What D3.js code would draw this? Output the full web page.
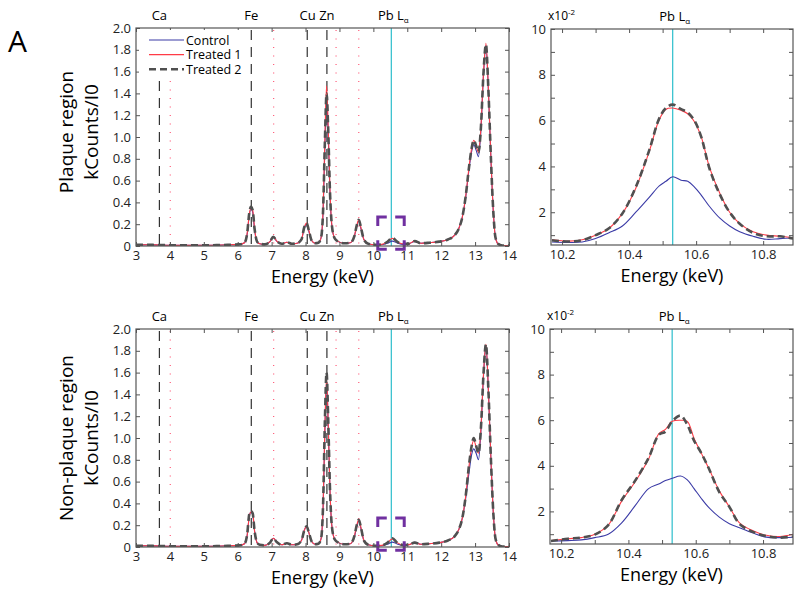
<!DOCTYPE html>
<html>
<head>
<meta charset="utf-8">
<script src="https://cdn.jsdelivr.net/npm/d3@7"></script>
<style>
  body { margin: 0; background: #fff; }
  svg { font-family: "Open Sans", "Noto Sans", sans-serif; }
</style>
</head>
<body>
<svg id="chart" width="800" height="596"></svg>
<script>
// ---- data ----
var seriesNames = ["Control", "Treated 1", "Treated 2"];

// full spectra (keV, kCounts/I0)
var energy = [3.0, 3.3, 3.5, 3.8, 4.2, 4.6, 5.0, 5.4, 5.8, 6.05, 6.2, 6.28, 6.34, 6.39, 6.44, 6.5, 6.57, 6.65, 6.8, 6.95,
  7.05, 7.15, 7.3, 7.45, 7.6, 7.75, 7.88, 7.96, 8.03, 8.1, 8.18, 8.28, 8.38, 8.46, 8.52, 8.57, 8.62, 8.67, 8.72, 8.78,
  8.86, 8.97, 9.15, 9.32, 9.44, 9.51, 9.57, 9.64, 9.72, 9.85, 10.05, 10.25, 10.42, 10.56, 10.7, 10.88, 11.05, 11.22, 11.4, 11.65,
  11.95, 12.2, 12.4, 12.52, 12.62, 12.72, 12.82, 12.9, 12.96, 13.03, 13.1, 13.17, 13.25, 13.32, 13.39, 13.47, 13.54, 13.6, 13.68, 13.8, 14.0];

var plaqueControl = [0.01, 0.012, 0.01, 0.008, 0.006, 0.006, 0.007, 0.008, 0.012, 0.015, 0.03, 0.11, 0.28, 0.34, 0.31, 0.14, 0.04, 0.02, 0.015, 0.04,
  0.08, 0.045, 0.02, 0.035, 0.02, 0.025, 0.06, 0.16, 0.2, 0.13, 0.05, 0.025, 0.03, 0.08, 0.33, 0.9, 1.36, 1.0, 0.48, 0.17,
  0.07, 0.04, 0.025, 0.03, 0.09, 0.18, 0.23, 0.15, 0.06, 0.02, 0.012, 0.012, 0.025, 0.045, 0.028, 0.015, 0.02, 0.042, 0.025, 0.03,
  0.04, 0.06, 0.1, 0.16, 0.26, 0.44, 0.7, 0.87, 0.93, 0.88, 0.82, 1.05, 1.58, 1.84, 1.44, 0.77, 0.3, 0.08, 0.02, 0.005, 0.003];
var plaqueTreated1 = [0.01, 0.012, 0.01, 0.008, 0.006, 0.006, 0.007, 0.008, 0.012, 0.015, 0.03, 0.12, 0.29, 0.35, 0.33, 0.15, 0.04, 0.02, 0.015, 0.04,
  0.085, 0.045, 0.02, 0.035, 0.02, 0.025, 0.06, 0.17, 0.21, 0.14, 0.05, 0.025, 0.03, 0.08, 0.36, 0.98, 1.47, 1.08, 0.52, 0.18,
  0.07, 0.04, 0.025, 0.03, 0.09, 0.19, 0.24, 0.16, 0.06, 0.02, 0.012, 0.015, 0.04, 0.07, 0.04, 0.018, 0.022, 0.045, 0.025, 0.03,
  0.04, 0.06, 0.1, 0.16, 0.26, 0.45, 0.72, 0.9, 0.97, 0.92, 0.86, 1.08, 1.6, 1.86, 1.46, 0.78, 0.3, 0.08, 0.02, 0.005, 0.003];
var plaqueTreated2 = [0.01, 0.012, 0.01, 0.008, 0.006, 0.006, 0.007, 0.008, 0.012, 0.015, 0.03, 0.12, 0.3, 0.36, 0.33, 0.15, 0.04, 0.02, 0.015, 0.04,
  0.085, 0.045, 0.02, 0.035, 0.02, 0.025, 0.06, 0.17, 0.21, 0.14, 0.05, 0.025, 0.03, 0.08, 0.35, 0.95, 1.4, 1.05, 0.5, 0.18,
  0.07, 0.04, 0.025, 0.03, 0.09, 0.19, 0.24, 0.16, 0.06, 0.02, 0.012, 0.015, 0.04, 0.075, 0.04, 0.018, 0.022, 0.045, 0.025, 0.03,
  0.04, 0.06, 0.1, 0.16, 0.26, 0.45, 0.72, 0.9, 0.97, 0.92, 0.86, 1.08, 1.6, 1.85, 1.45, 0.78, 0.3, 0.08, 0.02, 0.005, 0.003];

var nonPlaqueControl = [0.01, 0.012, 0.01, 0.008, 0.006, 0.006, 0.007, 0.008, 0.012, 0.015, 0.03, 0.11, 0.28, 0.32, 0.3, 0.14, 0.04, 0.02, 0.015, 0.04,
  0.08, 0.045, 0.02, 0.035, 0.02, 0.025, 0.06, 0.15, 0.19, 0.13, 0.05, 0.025, 0.03, 0.08, 0.38, 1.05, 1.52, 1.1, 0.52, 0.18,
  0.07, 0.04, 0.025, 0.03, 0.09, 0.19, 0.24, 0.16, 0.06, 0.02, 0.012, 0.012, 0.025, 0.045, 0.028, 0.015, 0.02, 0.042, 0.025, 0.03,
  0.04, 0.06, 0.1, 0.16, 0.26, 0.44, 0.68, 0.85, 0.9, 0.86, 0.8, 1.05, 1.58, 1.85, 1.45, 0.78, 0.3, 0.08, 0.02, 0.005, 0.003];
var nonPlaqueTreated1 = [0.01, 0.012, 0.01, 0.008, 0.006, 0.006, 0.007, 0.008, 0.012, 0.015, 0.03, 0.11, 0.28, 0.32, 0.31, 0.14, 0.04, 0.02, 0.015, 0.04,
  0.08, 0.045, 0.02, 0.035, 0.02, 0.025, 0.06, 0.15, 0.19, 0.13, 0.05, 0.025, 0.03, 0.08, 0.4, 1.1, 1.55, 1.12, 0.53, 0.18,
  0.07, 0.04, 0.025, 0.03, 0.1, 0.2, 0.25, 0.17, 0.06, 0.02, 0.012, 0.015, 0.04, 0.075, 0.04, 0.018, 0.022, 0.04, 0.025, 0.03,
  0.04, 0.06, 0.1, 0.16, 0.26, 0.46, 0.74, 0.92, 0.98, 0.92, 0.86, 1.08, 1.6, 1.86, 1.46, 0.78, 0.3, 0.08, 0.02, 0.005, 0.003];
var nonPlaqueTreated2 = [0.01, 0.012, 0.01, 0.008, 0.006, 0.006, 0.007, 0.008, 0.012, 0.015, 0.03, 0.12, 0.3, 0.33, 0.31, 0.14, 0.04, 0.02, 0.015, 0.04,
  0.08, 0.045, 0.02, 0.035, 0.02, 0.025, 0.06, 0.15, 0.19, 0.13, 0.05, 0.025, 0.03, 0.08, 0.42, 1.15, 1.6, 1.15, 0.54, 0.18,
  0.07, 0.04, 0.025, 0.03, 0.1, 0.2, 0.25, 0.17, 0.06, 0.02, 0.012, 0.015, 0.04, 0.08, 0.04, 0.018, 0.022, 0.04, 0.025, 0.03,
  0.04, 0.06, 0.1, 0.16, 0.26, 0.46, 0.75, 0.93, 1.0, 0.93, 0.86, 1.08, 1.6, 1.86, 1.46, 0.78, 0.3, 0.08, 0.02, 0.005, 0.003];

// Pb L-alpha close-up (keV, x10^-2 kCounts/I0)
var zoomEnergy = [10.17, 10.22, 10.26, 10.3, 10.34, 10.38, 10.42, 10.46, 10.49, 10.51, 10.53, 10.555, 10.575, 10.595, 10.615, 10.64, 10.67, 10.7, 10.73, 10.77, 10.81, 10.85, 10.89];
var plaqueZoomControl = [0.7, 0.68, 0.7, 0.85, 1.1, 1.4, 2.0, 2.65, 3.15, 3.35, 3.55, 3.4, 3.35, 3.1, 2.75, 2.25, 1.75, 1.4, 1.15, 0.95, 0.82, 0.85, 0.88];
var plaqueZoomTreated1 = [0.8, 0.74, 0.8, 1.0, 1.3, 1.95, 3.05, 4.65, 6.05, 6.5, 6.55, 6.45, 6.3, 5.95, 5.3, 3.95, 2.85, 2.0, 1.5, 1.15, 1.0, 0.95, 0.88];
var plaqueZoomTreated2 = [0.78, 0.72, 0.78, 1.0, 1.3, 1.95, 3.1, 4.7, 6.1, 6.55, 6.7, 6.5, 6.35, 6.0, 5.3, 3.9, 2.8, 2.0, 1.5, 1.1, 0.95, 0.95, 0.85];
var nonPlaqueZoomControl = [0.7, 0.72, 0.75, 0.85, 1.0, 1.5, 2.25, 3.0, 3.2, 3.35, 3.45, 3.55, 3.38, 3.0, 2.6, 2.15, 1.75, 1.46, 1.28, 1.05, 0.87, 0.85, 0.87];
var nonPlaqueZoomTreated1 = [0.72, 0.8, 0.85, 1.0, 1.4, 2.45, 3.3, 4.3, 5.4, 5.6, 5.95, 6.0, 5.95, 5.2, 4.6, 3.85, 2.9, 2.2, 1.5, 1.15, 0.95, 0.9, 1.0];
var nonPlaqueZoomTreated2 = [0.7, 0.8, 0.85, 0.98, 1.4, 2.5, 3.35, 4.35, 5.35, 5.5, 5.95, 6.2, 5.8, 5.1, 4.6, 3.85, 2.85, 2.2, 1.45, 1.1, 0.92, 0.85, 0.9];

// element lines
var pbEnergy = 10.53;
var elementLines = [
  {label: "Ca", e: 3.69, kind: "ka"}, {e: 4.01, kind: "kb"},
  {label: "Fe", e: 6.40, kind: "ka"}, {e: 7.06, kind: "kb"},
  {label: "Cu", e: 8.05, kind: "ka"}, {label: "Zn", e: 8.63, kind: "ka"},
  {e: 8.90, kind: "kb"}, {e: 9.57, kind: "kb"},
  {label: "Pb", e: pbEnergy, kind: "pb"}
];
var zoomBox = {e0: 10.13, e1: 10.91, c0: -0.03, c1: 0.265};

var overviewTicksX = d3.range(3, 15);
var overviewTicksY = d3.range(0, 2.01, 0.2);
var zoomTicksX = [10.2, 10.4, 10.6, 10.8];
var zoomTicksY = [2, 4, 6, 8, 10];

// ---- drawing ----
var svg = d3.select("#chart");
var colors = {"Control": "#3b3ba6", "Treated 1": "#ff3b46", "Treated 2": "#505050"};
var frameColor = "#555";

svg.append("text").attr("x", 8).attr("y", 52).attr("font-size", 30).text("A");

function styleLine(sel, name) {
  sel.attr("fill", "none").attr("stroke", colors[name]);
  if (name === "Treated 2") sel.attr("stroke-width", 2.6).attr("stroke-dasharray", "7,4");
  else sel.attr("stroke-width", 1.1);
}

function drawAxes(g, x, y, w, h, ticksX, ticksY, fmtY, minorX, minorY) {
  var isMajor = function(list, d) { return list.some(function(t) { return Math.abs(t - d) < 1e-6; }); };
  g.append("g").attr("transform", "translate(0," + h + ")")
    .call(d3.axisBottom(x).tickValues(minorX).tickSize(-4).tickPadding(5).tickFormat(function(d) {
      return isMajor(ticksX, d) ? d3.format("~g")(d) : "";
    }));
  g.append("g")
    .call(d3.axisLeft(y).tickValues(minorY).tickSize(-4).tickPadding(5).tickFormat(function(d) {
      return isMajor(ticksY, d) ? fmtY(d) : "";
    }));
  g.append("g").call(d3.axisTop(x).tickValues(minorX).tickSize(-4).tickFormat(""));
  g.append("g").attr("transform", "translate(" + w + ",0)")
    .call(d3.axisRight(y).tickValues(minorY).tickSize(-4).tickFormat(""));
  g.selectAll(".domain").remove();
  g.selectAll(".tick text").filter(function() { return this.textContent === ""; }).remove();
  g.selectAll(".tick line").attr("stroke", frameColor);
  g.selectAll(".tick text").attr("font-size", 13).attr("fill", "#222").attr("font-family", "Open Sans");
  g.append("rect").attr("width", w).attr("height", h)
    .attr("fill", "none").attr("stroke", frameColor).attr("stroke-width", 1.2);
}

function overview(cfg) {
  var g = svg.append("g").attr("transform", "translate(" + cfg.left + "," + cfg.top + ")");
  var w = cfg.width, h = cfg.height;
  var x = d3.scaleLinear().domain([3, 14]).range([0, w]);
  var y = d3.scaleLinear().domain([0, 2]).range([h, 0]);
  var clipId = "clip" + cfg.id;
  g.append("clipPath").attr("id", clipId).append("rect").attr("width", w).attr("height", h);

  // element reference lines
  var refs = g.append("g");
  elementLines.forEach(function(el) {
    var ln = refs.append("line").attr("x1", x(el.e)).attr("x2", x(el.e))
      .attr("y1", 2).attr("y2", h);
    if (el.kind === "ka") ln.attr("stroke", "#333").attr("stroke-width", 1.2).attr("stroke-dasharray", "10,7");
    else if (el.kind === "kb") ln.attr("stroke", "#ff4d6d").attr("stroke-width", 1.1).attr("stroke-dasharray", "1,7.5");
    else ln.attr("stroke", "#3cc3d0").attr("stroke-width", 1.3).attr("y1", 0);
  });

  var line = d3.line().x(function(d) { return x(d[0]); }).y(function(d) { return y(d[1]); })
    .curve(d3.curveMonotoneX);
  var plot = g.append("g").attr("clip-path", "url(#" + clipId + ")");
  cfg.series.forEach(function(vals, i) {
    var pts = energy.map(function(e, k) { return [e, vals[k]]; });
    plot.append("path").datum(pts).attr("d", line).call(styleLine, seriesNames[i]);
  });

  // zoom box corners
  var bx0 = x(zoomBox.e0), bx1 = x(zoomBox.e1), by0 = y(zoomBox.c1), by1 = y(zoomBox.c0);
  var arm = 9;
  var corners = [
    [[bx0, by0 + arm], [bx0, by0], [bx0 + arm, by0]],
    [[bx1 - arm, by0], [bx1, by0], [bx1, by0 + arm]],
    [[bx1, by1 - arm], [bx1, by1], [bx1 - arm, by1]],
    [[bx0 + arm, by1], [bx0, by1], [bx0, by1 - arm]]
  ];
  corners.forEach(function(c) {
    g.append("path").attr("d", d3.line()(c)).attr("fill", "none")
      .attr("stroke", "#7030a0").attr("stroke-width", 3);
  });

  drawAxes(g, x, y, w, h, overviewTicksX, overviewTicksY,
    function(d) { return d === 0 ? "0" : d.toFixed(1); }, overviewTicksX, overviewTicksY);

  if (cfg.legend) {
    var lg = g.append("g").attr("transform", "translate(3,2)");
    lg.append("rect").attr("width", 106).attr("height", 47).attr("fill", "#fff");
    var rowGap = 14.6;
    seriesNames.forEach(function(n, i) {
      var yy = 10 + i * rowGap;
      lg.append("line").attr("x1", 10).attr("x2", 45).attr("y1", yy).attr("y2", yy).call(styleLine, n);
    });
    // one text block, one line per entry
    var lt = lg.append("text").attr("font-size", 12.5);
    seriesNames.forEach(function(n, i) {
      lt.append("tspan").attr("x", 47).attr("y", 14.5 + i * rowGap).text(n);
    });
  }

  // element labels above the frame
  var labels = g.append("g").attr("font-size", 13).attr("text-anchor", "middle");
  labels.append("text").attr("x", x(3.69)).attr("y", -8).text("Ca");
  labels.append("text").attr("x", x(6.40)).attr("y", -8).text("Fe");
  labels.append("text").attr("x", (x(8.05) + x(8.63)) / 2).attr("y", -8).text("Cu Zn");
  var pb = labels.append("text").attr("x", x(pbEnergy) + 2).attr("y", -8);
  pb.append("tspan").text("Pb L");
  pb.append("tspan").attr("font-size", 8).attr("dy", 3).text("\u03b1");

  g.append("text").attr("x", w / 2).attr("y", h + 37).attr("text-anchor", "middle")
    .attr("font-size", 18).text("Energy (keV)");
  var yl = g.append("g").attr("transform", "translate(" + (-63) + "," + (h / 2 + cfg.labelShift) + ") rotate(-90)")
    .attr("text-anchor", "middle").attr("font-size", 19);
  yl.append("text").attr("y", 0).text(cfg.region);
  yl.append("text").attr("y", 25).text("kCounts/I0");
}

function closeup(cfg) {
  var g = svg.append("g").attr("transform", "translate(" + cfg.left + "," + cfg.top + ")");
  var w = cfg.width, h = cfg.height;
  var x = d3.scaleLinear().domain([10.167, 10.889]).range([0, w]);
  var y = d3.scaleLinear().domain([0.57, 10]).range([h, 0]);
  var clipId = "clipz" + cfg.id;
  g.append("clipPath").attr("id", clipId).append("rect").attr("width", w).attr("height", h);

  g.append("line").attr("x1", x(pbEnergy)).attr("x2", x(pbEnergy)).attr("y1", 0).attr("y2", h)
    .attr("stroke", "#3cc3d0").attr("stroke-width", 1.3);

  var line = d3.line().x(function(d) { return x(d[0]); }).y(function(d) { return y(d[1]); })
    .curve(d3.curveCatmullRom);
  var plot = g.append("g").attr("clip-path", "url(#" + clipId + ")");
  cfg.series.forEach(function(vals, i) {
    var pts = zoomEnergy.map(function(e, k) { return [e, vals[k]]; });
    plot.append("path").datum(pts).attr("d", line).call(styleLine, seriesNames[i]);
  });

  drawAxes(g, x, y, w, h, zoomTicksX, zoomTicksY, function(d) { return String(d); },
    d3.range(10.2, 10.85, 0.1).map(function(v) { return +v.toFixed(1); }), d3.range(1, 10.5, 1));

  var ex = g.append("text").attr("x", -3).attr("y", -9).attr("font-size", 12);
  ex.append("tspan").text("x10");
  ex.append("tspan").attr("font-size", 8).attr("dy", -5).text("-2");

  var pb = g.append("text").attr("x", x(pbEnergy) + 2).attr("y", -8).attr("font-size", 13).attr("text-anchor", "middle");
  pb.append("tspan").text("Pb L");
  pb.append("tspan").attr("font-size", 8).attr("dy", 3).text("\u03b1");

  g.append("text").attr("x", w / 2).attr("y", h + 37).attr("text-anchor", "middle")
    .attr("font-size", 18).text("Energy (keV)");
}

overview({id: 1, left: 136, top: 28, width: 373, height: 218, legend: true, region: "Plaque region",
  labelShift: -5, series: [plaqueControl, plaqueTreated1, plaqueTreated2]});
overview({id: 2, left: 136, top: 329, width: 373, height: 218, legend: false, region: "Non-plaque region",
  labelShift: 0, series: [nonPlaqueControl, nonPlaqueTreated1, nonPlaqueTreated2]});
closeup({id: 1, left: 551, top: 29, width: 242, height: 216,
  series: [plaqueZoomControl, plaqueZoomTreated1, plaqueZoomTreated2]});
closeup({id: 2, left: 550, top: 329, width: 243, height: 215,
  series: [nonPlaqueZoomControl, nonPlaqueZoomTreated1, nonPlaqueZoomTreated2]});
</script>
</body>
</html>
